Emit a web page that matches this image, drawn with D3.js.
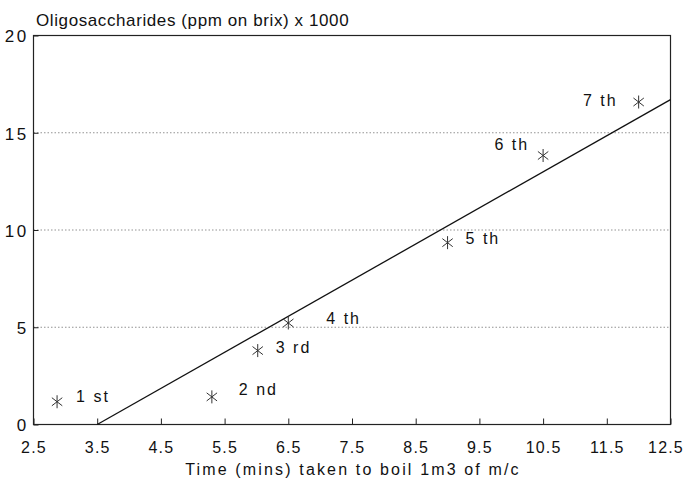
<!DOCTYPE html>
<html>
<head>
<meta charset="utf-8">
<script src="https://cdn.jsdelivr.net/npm/d3@7"></script>
<style>
  body { margin: 0; background: #fff; }
  text { font-family: "Liberation Sans", Arial, sans-serif; fill: #111; }
</style>
</head>
<body>
<div id="app"></div>
<script>
// boiling order and measured values
const boilings = ["1 st", "2 nd", "3 rd", "4 th", "5 th", "6 th", "7 th"];
const boilTime = [2.87, 5.3, 6.02, 6.5, 9.0, 10.5, 12.0];
const oligo = [1.17, 1.42, 3.8, 5.22, 9.35, 13.83, 16.58];

// fitted line end points
const fitX = [3.5, 12.5];
const fitY = [0, 16.7];

// tick labels
const xTicks = [2.5, 3.5, 4.5, 5.5, 6.5, 7.5, 8.5, 9.5, 10.5, 11.5, 12.5];
const yTicks = [0, 5, 10, 15, 20];
const gridValues = [5, 10, 15];

const W = 687, H = 481;
const margin = {top: 35.5, right: 16.5, bottom: 56.5, left: 33.5},
  width = W - margin.left - margin.right,
  height = H - margin.top - margin.bottom;

const svg = d3.select("#app")
.append("svg")
  .attr("width", W)
  .attr("height", H);

const g = svg.append("g")
  .attr("transform", "translate(" + margin.left + "," + margin.top + ")");

const x = d3.scaleLinear().domain([2.5, 12.5]).range([0, width]);
const y = d3.scaleLinear().domain([0, 20]).range([height, 0]);

// dotted grid lines
g.selectAll(".grid")
  .data(gridValues)
  .enter()
  .append("line")
  .attr("x1", 0)
  .attr("x2", width)
  .attr("y1", d => y(d))
  .attr("y2", d => y(d))
  .attr("stroke", "#777")
  .attr("stroke-width", 0.8)
  .attr("stroke-dasharray", "1.5,2");

// axes with inward ticks
const xAxis = g.append("g")
  .attr("transform", "translate(0," + height + ")")
  .call(d3.axisBottom(x).tickValues(xTicks).tickSize(-6).tickPadding(17)
    .tickFormat(d3.format(".1f")));

const yAxis = g.append("g")
  .call(d3.axisLeft(y).tickValues(yTicks).tickSize(-5).tickPadding(5));

[xAxis, yAxis].forEach(a => {
  a.select(".domain").remove();
  a.selectAll(".tick line").attr("stroke", "#222").attr("stroke-width", 1);
  a.selectAll(".tick text")
    .style("font-size", "16px")
    .attr("fill", "#111");
});
xAxis.selectAll(".tick text")
  .style("letter-spacing", "1.2px")
  .attr("dx", d => d === 12.5 ? -5 : 0);
yAxis.selectAll(".tick text").style("font-size", "17px").style("letter-spacing", "2.4px").attr("dy", "0.38em");

// frame
g.append("rect")
  .attr("x", 0)
  .attr("y", 0)
  .attr("width", width)
  .attr("height", height)
  .attr("fill", "none")
  .attr("stroke", "#222")
  .attr("stroke-width", 1.2);

// fitted line
const fit = fitX.map((v, i) => [v, fitY[i]]);
g.append("path")
  .datum(fit)
  .attr("d", d3.line().x(d => x(d[0])).y(d => y(d[1])))
  .attr("fill", "none")
  .attr("stroke", "#111")
  .attr("stroke-width", 1.3);

// asterisk marker: vertical stroke plus an X
const asterisk = {
  draw(ctx, size) {
    const r = Math.sqrt(size) / 2;
    const u = r * 0.8, t = r * 0.62;
    ctx.moveTo(0, -r); ctx.lineTo(0, r);
    ctx.moveTo(-u, -t); ctx.lineTo(u, t);
    ctx.moveTo(-u, t); ctx.lineTo(u, -t);
  }
};

const points = boilings.map((b, i) => ({name: b, t: boilTime[i], v: oligo[i]}));

g.selectAll(".pt")
  .data(points)
  .enter()
  .append("path")
  .attr("transform", d => "translate(" + x(d.t) + "," + y(d.v) + ")")
  .attr("d", d3.symbol().type(asterisk).size(169))
  .attr("fill", "none")
  .attr("stroke", "#333")
  .attr("stroke-width", 1);

// label nudges (px) relative to each marker
const labelNudge = [[19, 0, "start"], [27, -2, "start"], [18, 2, "start"], [38, 1, "start"],
  [18, 1, "start"], [-14, -6, "end"], [-21, 4, "end"]];

g.selectAll(".lbl")
  .data(points)
  .enter()
  .append("text")
  .attr("x", (d, i) => x(d.t) + labelNudge[i][0])
  .attr("y", (d, i) => y(d.v) + labelNudge[i][1])
  .attr("text-anchor", (d, i) => labelNudge[i][2])
  .style("font-size", "16px")
  .style("letter-spacing", "2px")
  .style("white-space", "pre")
  .text(d => d.name);

// titles
svg.append("text")
  .attr("x", 36)
  .attr("y", 26)
  .style("font-size", "17px")
  .style("letter-spacing", "0.6px")
  .text("Oligosaccharides (ppm on brix) x 1000");

svg.append("text")
  .attr("x", margin.left + width / 2 + 1)
  .attr("y", 475)
  .attr("text-anchor", "middle")
  .style("font-size", "16px")
  .style("letter-spacing", "2.15px")
  .text("Time (mins) taken to boil 1m3 of m/c");
</script>
</body>
</html>
